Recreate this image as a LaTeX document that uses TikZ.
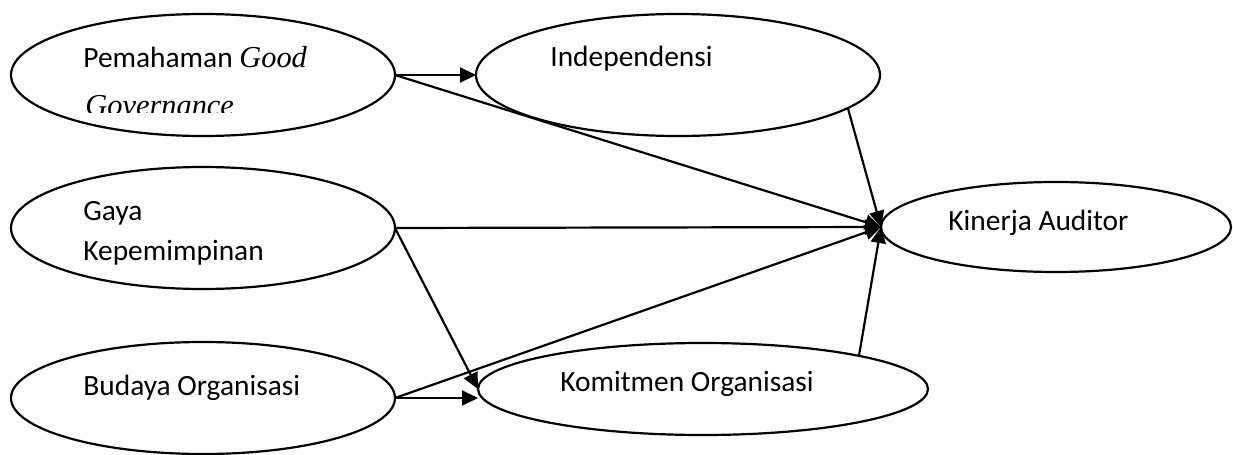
\documentclass[tikz,border=0pt]{standalone}
\usepackage{fontspec}
\setmainfont{Carlito}
\newfontfamily\tnr{Liberation Serif}
\usetikzlibrary{shapes.geometric,arrows.meta}
\begin{document}
\begin{tikzpicture}[x=0.5pt,y=-0.5pt,
  var/.style={draw, ellipse, line width=1.1pt, inner sep=0pt, outer sep=0pt},
  lbl/.style={anchor=base west, inner sep=0pt, font=\fontsize{14.7}{20}\selectfont},
  arr/.style={line width=1.1pt, -{Triangle[length=8pt,width=7.5pt]}}]
\useasboundingbox (0,0) rectangle (1233,455);
\node[var, minimum width=192pt, minimum height=61pt] (pgg) at (203,75) {};
\node[var, minimum width=202pt, minimum height=61pt] (ind) at (678,75) {};
\node[var, minimum width=192pt, minimum height=61pt] (gaya) at (203,228) {};
\node[var, minimum width=192pt, minimum height=56pt] (bud) at (203,398) {};
\node[var, minimum width=225pt, minimum height=46pt] (kom) at (703,389) {};
\node[var, minimum width=175pt, minimum height=45pt] (kin) at (1056,227) {};
\begin{scope}
\clip (0,0) rectangle (420,112);
\node[lbl] (t1) at (83,68) {Pemahaman {\tnr\itshape\fontsize{15.2}{20}\selectfont Good}};
\node[lbl] (t1b) at (85,115) {\tnr\itshape\fontsize{15.2}{20}\selectfont Governance};
\end{scope}
\node[lbl] (t2) at (550,67) {Independensi};
\node[lbl] (t3) at (83,220) {Gaya};
\node[lbl] (t3b) at (83,260) {Kepemimpinan};
\node[lbl] (t4) at (83,395) {Budaya Organisasi};
\node[lbl] (t5) at (560,391) {Komitmen Organisasi};
\node[lbl] (t6) at (948,230) {Kinerja Auditor};
\draw[arr] (pgg.east) -- (ind.west);
\draw[arr] (pgg.east) -- (kin.west);
\draw[arr] (ind.-11) -- (kin.west);
\draw[arr] (gaya.east) -- (kin.west);
\draw[arr] (gaya.east) -- (kom.west);
\draw[arr] (bud.east) -- (kom.west |- bud.east);
\draw[arr] (bud.east) -- (kin.west);
\draw[arr] (kom.12) -- (kin.west);
\end{tikzpicture}
\end{document}
